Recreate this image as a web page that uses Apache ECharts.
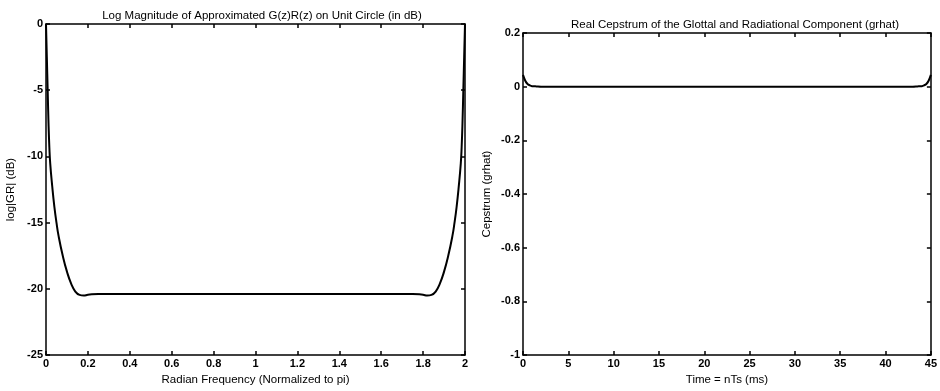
<!DOCTYPE html>
<html><head><meta charset="utf-8">
<script src="https://cdn.jsdelivr.net/npm/echarts@6/dist/echarts.min.js"></script>
<style>html,body{margin:0;padding:0;background:#fff}#c{width:940px;height:391px}</style>
</head><body><div id="c"></div>
<script>
// Left panel: log magnitude (dB) vs normalized radian frequency
const freqX = [0,0.004,0.008,0.012,0.016,0.02,0.03,0.04,0.05,0.06,0.08,0.1,0.12,0.14,0.16,0.18,0.2,0.25,0.3,0.5,0.8,1.0,1.2,1.5,1.7,1.75,1.8,1.82,1.84,1.86,1.88,1.9,1.92,1.94,1.95,1.96,1.97,1.98,1.984,1.988,1.992,1.996,2];
const logMagY = [0,-2.5,-5,-7.5,-9.3,-10.5,-12.3,-13.8,-15,-16,-17.5,-18.7,-19.6,-20.2,-20.45,-20.5,-20.45,-20.38,-20.38,-20.38,-20.38,-20.38,-20.38,-20.38,-20.38,-20.38,-20.45,-20.5,-20.45,-20.2,-19.6,-18.7,-17.5,-16,-15,-13.8,-12.3,-10.5,-9.3,-7.5,-5,-2.5,0];
const freqTicks = [0,0.2,0.4,0.6,0.8,1,1.2,1.4,1.6,1.8,2];
const dbTicks = [0,-5,-10,-15,-20,-25];
// Right panel: real cepstrum vs time (ms)
const timeX = [0,0.25,0.5,0.75,1,1.5,2,5,10,20,30,40,43,43.5,44,44.25,44.5,44.75,45];
const cepY = [0.044,0.022,0.01,0.005,0.002,0.001,0,0,0,0,0,0,0,0.001,0.002,0.005,0.01,0.022,0.044];
const timeTicks = [0,5,10,15,20,25,30,35,40,45];
const cepTicks = [0.2,0,-0.2,-0.4,-0.6,-0.8,-1];

const FONT = 'Liberation Sans';
const txt = {color:'#000', fontFamily:FONT, fontSize:11.5};
const tick = {color:'#000', fontFamily:FONT, fontSize:11, fontWeight:'bold'};
function fmt(v){ return String(+v.toFixed(2)); }
function xAx(idx, min, max, interval, name, pos){
  const main = pos==='bottom';
  return {type:'value', gridIndex:idx, position:pos, min, max, interval,
    name: main?name:'', nameLocation:'middle', nameGap:18, nameTextStyle:txt,
    axisLine:{show:true,onZero:false,lineStyle:{color:'#000',width:1.5}},
    axisTick:{show:true,inside:true,length:4,lineStyle:{color:'#000',width:1.5}},
    axisLabel:{show:main, ...tick, margin:3, hideOverlap:false, showMaxLabel:true, showMinLabel:true, formatter:fmt},
    splitLine:{show:false}};
}
function yAx(idx, min, max, interval, name, pos, gap){
  const main = pos==='left';
  return {type:'value', gridIndex:idx, position:pos, min, max, interval,
    name: main?name:'', nameLocation:'middle', nameGap:gap, nameTextStyle:txt,
    axisLine:{show:true,onZero:false,lineStyle:{color:'#000',width:1.5}},
    axisTick:{show:true,inside:true,length:4,lineStyle:{color:'#000',width:1.5}},
    axisLabel:{show:main, ...tick, margin:3, hideOverlap:false, showMaxLabel:true, showMinLabel:true, formatter:fmt},
    splitLine:{show:false}};
}
const chart = echarts.init(document.getElementById('c'), null, {renderer:'canvas'});
chart.setOption({
  animation:false,
  backgroundColor:'#fff',
  title:[
    {text:'Log Magnitude of Approximated G(z)R(z) on Unit Circle (in dB)', left:257, top:5, textAlign:'center', textStyle:{...txt, fontWeight:'normal'}},
    {text:'Real Cepstrum of the Glottal and Radiational Component (grhat)', left:730, top:14, textAlign:'center', textStyle:{...txt, fontWeight:'normal'}}
  ],
  grid:[
    {left:46, right:475, top:24, bottom:33},
    {left:523, right:5, top:33, bottom:33}
  ],
  xAxis:[
    xAx(0,0,2,0.2,'Radian Frequency (Normalized to pi)','bottom'),
    xAx(0,0,2,0.2,'','top'),
    xAx(1,0,45,5,'Time = nTs (ms)','bottom'),
    xAx(1,0,45,5,'','top')
  ],
  yAxis:[
    yAx(0,-25,0,5,'log|GR| (dB)','left',29),
    yAx(0,-25,0,5,'','right',0),
    yAx(1,-1,0.2,0.2,'Cepstrum (grhat)','left',30),
    yAx(1,-1,0.2,0.2,'','right',0)
  ],
  series:[
    {type:'line', xAxisIndex:0, yAxisIndex:0, data:freqX.map((x,i)=>[x,logMagY[i]]), smooth:0.5, showSymbol:false, lineStyle:{color:'#000',width:2}},
    {type:'line', xAxisIndex:2, yAxisIndex:2, data:timeX.map((x,i)=>[x,cepY[i]]), smooth:0.3, showSymbol:false, lineStyle:{color:'#000',width:2}}
  ]
});
</script></body></html>
